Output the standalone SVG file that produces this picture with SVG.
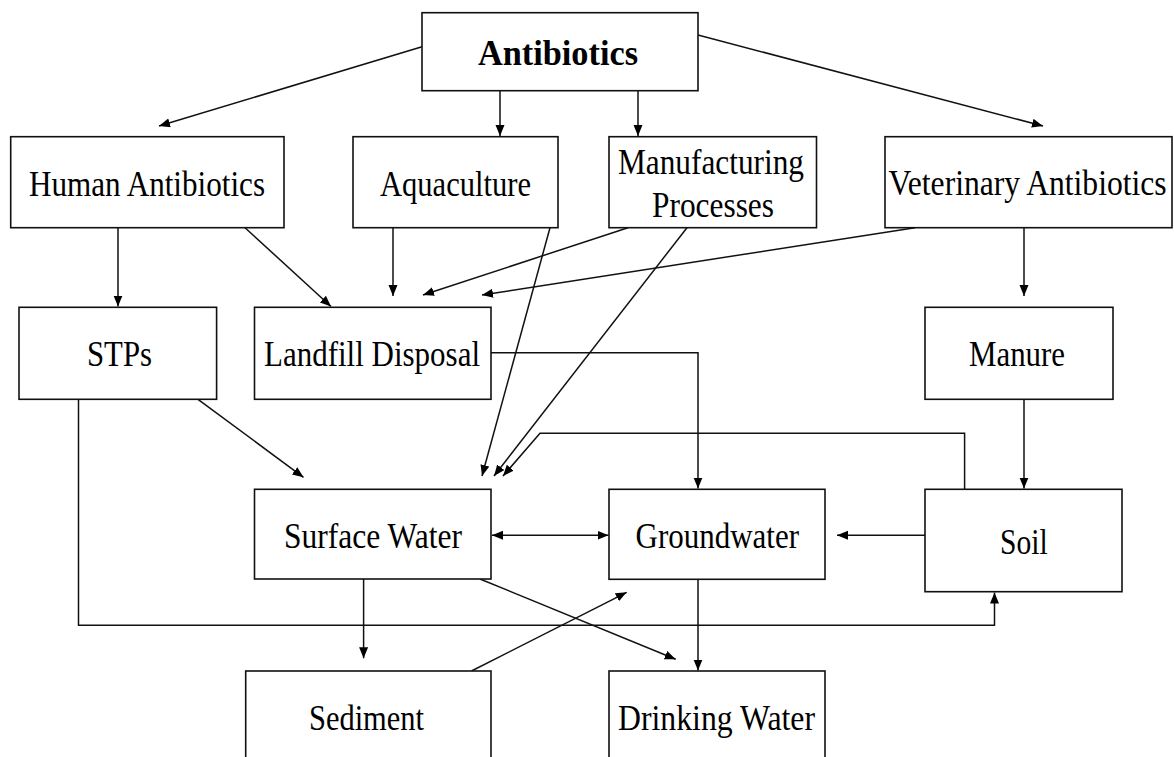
<svg xmlns="http://www.w3.org/2000/svg" width="1174" height="757" viewBox="0 0 1174 757">
<style>
.box{fill:#fff;stroke:#111;stroke-width:1.6}
.t{font-family:"Liberation Serif","Times New Roman",serif;font-size:35px;fill:#000}
.b{font-weight:bold}
.c{fill:none;stroke:#111;stroke-width:1.5}
</style>
<defs>
<marker id="ah" markerUnits="userSpaceOnUse" markerWidth="12" markerHeight="10" refX="11" refY="4.5" orient="auto-start-reverse">
<path d="M0,0 L11,4.5 L0,9 z" fill="#000"/>
</marker>
</defs>
<rect width="1174" height="757" fill="#fff"/>
<g id="connectors">
<line class="c" x1="422" y1="46.7" x2="159" y2="126" marker-end="url(#ah)"/>
<line class="c" x1="500" y1="90.7" x2="500" y2="136" marker-end="url(#ah)"/>
<line class="c" x1="638" y1="90.7" x2="638" y2="136" marker-end="url(#ah)"/>
<line class="c" x1="698" y1="35" x2="1043" y2="126" marker-end="url(#ah)"/>
<line class="c" x1="118" y1="227.7" x2="118" y2="306.5" marker-end="url(#ah)"/>
<line class="c" x1="245" y1="227.7" x2="331" y2="306.5" marker-end="url(#ah)"/>
<line class="c" x1="393" y1="227.7" x2="393" y2="296" marker-end="url(#ah)"/>
<line class="c" x1="628" y1="227.7" x2="423" y2="295" marker-end="url(#ah)"/>
<line class="c" x1="915" y1="227.7" x2="482" y2="295" marker-end="url(#ah)"/>
<line class="c" x1="550" y1="227.7" x2="482" y2="476" marker-end="url(#ah)"/>
<line class="c" x1="687" y1="227.7" x2="494" y2="476" marker-end="url(#ah)"/>
<line class="c" x1="1024" y1="227.7" x2="1024" y2="296" marker-end="url(#ah)"/>
<polyline class="c" points="491,352.7 698,352.7 698,488.5" marker-end="url(#ah)"/>
<line class="c" x1="198" y1="399.3" x2="303.5" y2="477.3" marker-end="url(#ah)"/>
<polyline class="c" points="964.6,489 964.6,433.3 540,433.3 503,476" marker-end="url(#ah)"/>
<line class="c" x1="1024" y1="399.3" x2="1024" y2="488.5" marker-end="url(#ah)"/>
<line class="c" x1="492" y1="535.3" x2="608.5" y2="535.3" marker-start="url(#ah)" marker-end="url(#ah)"/>
<line class="c" x1="925" y1="535.3" x2="837" y2="535.3" marker-end="url(#ah)"/>
<polyline class="c" points="78.5,399.3 78.5,625.3 994.5,625.3 994.5,592.5" marker-end="url(#ah)"/>
<line class="c" x1="363.6" y1="579" x2="363.6" y2="658.3" marker-end="url(#ah)"/>
<line class="c" x1="471.5" y1="671" x2="626.7" y2="592.3" marker-end="url(#ah)"/>
<line class="c" x1="480" y1="579" x2="675.7" y2="659.3" marker-end="url(#ah)"/>
<line class="c" x1="698" y1="579.3" x2="698" y2="670.5" marker-end="url(#ah)"/>
</g>
<g id="antibiotics"><rect class="box" x="422" y="12.7" width="276" height="78"/><text class="t b" x="478" y="65" textLength="160" lengthAdjust="spacingAndGlyphs">Antibiotics</text></g>
<g id="human"><rect class="box" x="10.7" y="136.7" width="273.3" height="91"/><text class="t" x="29" y="196" textLength="236" lengthAdjust="spacingAndGlyphs">Human Antibiotics</text></g>
<g id="aquaculture"><rect class="box" x="353" y="136.7" width="205" height="91"/><text class="t" x="380" y="196" textLength="151" lengthAdjust="spacingAndGlyphs">Aquaculture</text></g>
<g id="manufacturing"><rect class="box" x="609" y="136.7" width="207.5" height="91"/><text class="t" x="618" y="174" textLength="186" lengthAdjust="spacingAndGlyphs">Manufacturing</text><text class="t" x="652" y="217.3" textLength="122" lengthAdjust="spacingAndGlyphs">Processes</text></g>
<g id="veterinary"><rect class="box" x="885" y="136.7" width="287" height="91"/><text class="t" transform="translate(888.5,195) scale(0.903,1)" x="0" y="0">Veterinary Antibiotics</text></g>
<g id="stps"><rect class="box" x="19" y="307.3" width="197.6" height="92"/><text class="t" x="87" y="366" textLength="65" lengthAdjust="spacingAndGlyphs">STPs</text></g>
<g id="landfill"><rect class="box" x="254.5" y="307.3" width="236.5" height="92"/><text class="t" x="264" y="366" textLength="216" lengthAdjust="spacingAndGlyphs">Landfill Disposal</text></g>
<g id="manure"><rect class="box" x="925" y="307.3" width="188" height="92"/><text class="t" x="969" y="366" textLength="96" lengthAdjust="spacingAndGlyphs">Manure</text></g>
<g id="surface"><rect class="box" x="254.5" y="489.3" width="236.5" height="89.7"/><text class="t" x="284" y="548.3" textLength="178" lengthAdjust="spacingAndGlyphs">Surface Water</text></g>
<g id="groundwater"><rect class="box" x="609" y="489.3" width="216" height="90"/><text class="t" x="635.5" y="548.3" textLength="163.5" lengthAdjust="spacingAndGlyphs">Groundwater</text></g>
<g id="soil"><rect class="box" x="925" y="489.3" width="197" height="102.4"/><text class="t" x="1000" y="554.3" textLength="47.6" lengthAdjust="spacingAndGlyphs">Soil</text></g>
<g id="sediment"><rect class="box" x="245.7" y="671" width="245.3" height="100"/><text class="t" x="309" y="730" textLength="115" lengthAdjust="spacingAndGlyphs">Sediment</text></g>
<g id="drinking"><rect class="box" x="609" y="671" width="216" height="100"/><text class="t" x="618" y="730" textLength="197" lengthAdjust="spacingAndGlyphs">Drinking Water</text></g>
</svg>
